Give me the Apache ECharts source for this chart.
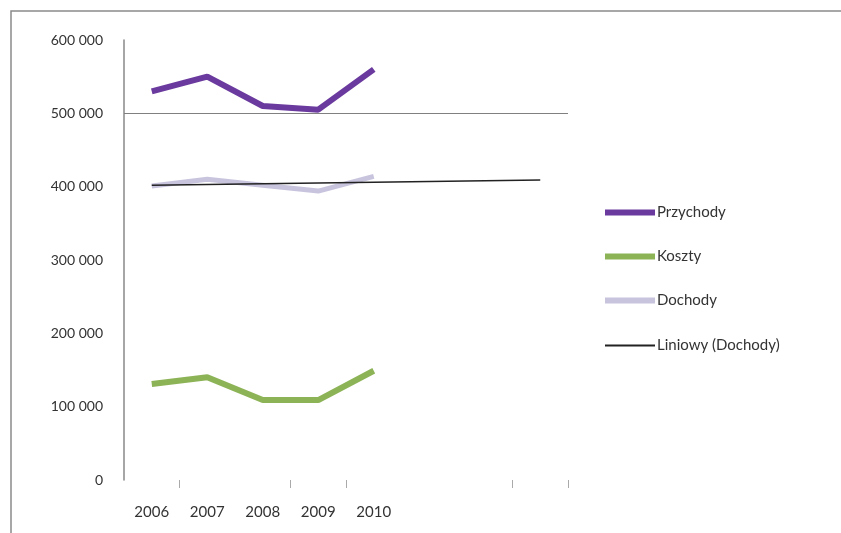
<!DOCTYPE html>
<html>
<head>
<meta charset="utf-8">
<script src="https://cdn.jsdelivr.net/npm/echarts@6/dist/echarts.min.js"></script>
<style>
  html, body { margin: 0; padding: 0; background: #fff; }
  #chart { width: 841px; height: 533px; }
</style>
</head>
<body>
<div id="chart"></div>
<script>
const years = ['2006', '2007', '2008', '2009', '2010', '', '', '']
const przychody = [530000, 550000, 510000, 505000, 560000]
const koszty = [131000, 140000, 109000, 109000, 149000]
const dochody = [401000, 410000, 402000, 394000, 414000]
// trend (Liniowy): start and end of the straight line
const trend = [402000, null, null, null, null, null, null, 409000]
const yTicks = [0, 100000, 200000, 300000, 400000, 500000, 600000]
const tickIdx = [1, 3, 4, 7, 8]

const chart = echarts.init(document.getElementById('chart'))

const fmt = v => String(v).replace(/\B(?=(\d{3})+(?!\d))/g, ' ')

const legendText = { fontSize: 15, color: '#333', padding: [0, 0, 0, -3] }

chart.setOption({
  animation: false,
  textStyle: { fontFamily: 'Lato, sans-serif' },
  graphic: [{
    type: 'polyline',
    shape: { points: [[11, 533], [11, 11], [841, 11]] },
    style: { stroke: '#8a8a8a', lineWidth: 1.5, fill: null }
  }],
  grid: { left: 124, right: 273, top: 40, bottom: 53 },
  legend: [{
    orient: 'vertical',
    left: 600,
    top: 200,
    icon: 'rect',
    itemWidth: 50,
    itemHeight: 6,
    itemGap: 29,
    textStyle: legendText,
    data: ['Przychody', 'Koszty', 'Dochody']
  }, {
    orient: 'vertical',
    left: 600,
    top: 333,
    icon: 'rect',
    itemWidth: 50,
    itemHeight: 2,
    textStyle: legendText,
    data: ['Liniowy (Dochody)']
  }],
  xAxis: {
    type: 'category',
    data: years,
    boundaryGap: true,
    axisLine: { show: false },
    axisTick: {
      show: true,
      length: 8,
      lineStyle: { color: '#aaa' },
      interval: idx => tickIdx.includes(idx)
    },
    axisLabel: { margin: 25, fontSize: 15, color: '#333', interval: 0 }
  },
  yAxis: {
    type: 'value',
    min: yTicks[0],
    max: yTicks[yTicks.length - 1],
    interval: 100000,
    axisLine: { show: true, lineStyle: { color: '#888', width: 1.5 } },
    axisTick: { show: false },
    splitLine: { show: false },
    axisLabel: { margin: 21, fontSize: 14, color: '#333', formatter: fmt }
  },
  series: [
    {
      name: 'Przychody', type: 'line', data: przychody, symbol: 'none',
      lineStyle: { color: '#6a3a9e', width: 6 }, itemStyle: { color: '#6a3a9e' },
      markLine: {
        silent: true, symbol: 'none', label: { show: false },
        lineStyle: { color: '#808080', width: 1.2, type: 'solid' },
        data: [{ yAxis: 500000 }]
      }
    },
    {
      name: 'Koszty', type: 'line', data: koszty, symbol: 'none',
      lineStyle: { color: '#8db357', width: 6 }, itemStyle: { color: '#8db357' }
    },
    {
      name: 'Dochody', type: 'line', data: dochody, symbol: 'none',
      lineStyle: { color: '#c9c4de', width: 5 }, itemStyle: { color: '#c9c4de' }
    },
    {
      name: 'Liniowy (Dochody)', type: 'line', data: trend, symbol: 'none', connectNulls: true,
      lineStyle: { color: '#222', width: 1.5 }, itemStyle: { color: '#222' }
    }
  ]
})
</script>
</body>
</html>
